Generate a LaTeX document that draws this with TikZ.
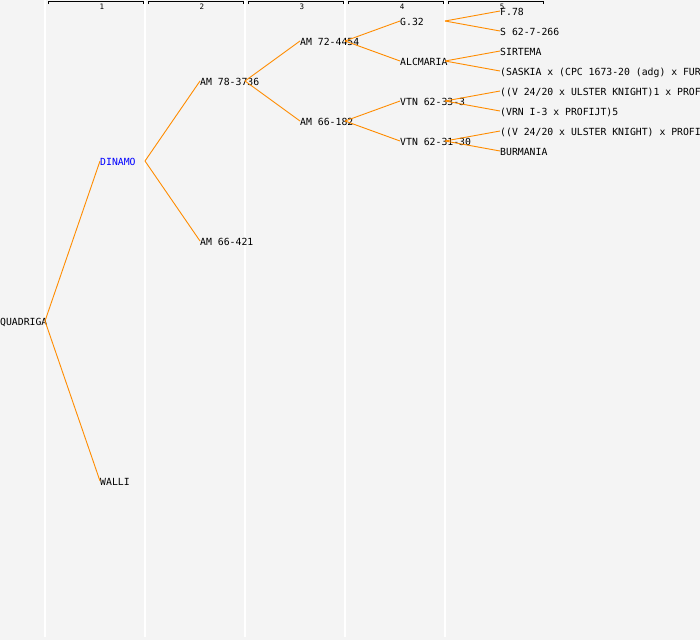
\documentclass[tikz,border=0pt]{standalone}
\usepackage{fontspec}
\setmonofont{DejaVu Sans Mono}
\usepackage{xcolor}
\definecolor{sfondo}{HTML}{F4F4F4}
\definecolor{ramo}{HTML}{FF8C00}
\definecolor{blu}{HTML}{0000FF}
\begin{document}
\begin{tikzpicture}[x=1pt,y=-1pt,
  nome/.style={anchor=west,inner sep=0pt,text height=9.5pt,text depth=0pt,
    font=\ttfamily\fontsize{9.8}{10}\selectfont},
  numero/.style={inner sep=0pt,font=\ttfamily\fontsize{7.5}{7.5}\selectfont},
  arco/.style={draw=ramo,line width=0.9pt},
  colonna/.style={draw=white,line width=1.5pt}]

% Sfondo
\useasboundingbox (0,0) rectangle (700,640);
\clip (0,0) rectangle (700,640);
\fill[sfondo] (0,0) rectangle (700,640);

% Colonne
\coordinate (col1) at (45,0);
\coordinate (col2) at (145,0);
\coordinate (col3) at (245,0);
\coordinate (col4) at (345,0);
\coordinate (col5) at (445,0);
\draw[colonna] (col1) -- (45,637);
\draw[colonna] (col2) -- (145,637);
\draw[colonna] (col3) -- (245,637);
\draw[colonna] (col4) -- (345,637);
\draw[colonna] (col5) -- (445,637);

% Intestazione
\draw (48,4) -- (48,1) -- (143,1) -- (143,4);
\draw (148,4) -- (148,1) -- (243,1) -- (243,4);
\draw (248,4) -- (248,1) -- (343,1) -- (343,4);
\draw (348,4) -- (348,1) -- (443,1) -- (443,4);
\draw (448,4) -- (448,1) -- (543,1) -- (543,4);
\node[numero] (n1) at (102,6.5) {1};
\node[numero] (n2) at (202,6.5) {2};
\node[numero] (n3) at (302,6.5) {3};
\node[numero] (n4) at (402,6.5) {4};
\node[numero] (n5) at (502,6.5) {5};

% Generazioni
\node[nome] (quadriga) at (0,321) {QUADRIGA};
\node[nome,text=blu] (dinamo) at (100,161) {DINAMO};
\node[nome] (walli) at (100,481) {WALLI};
\node[nome] (am783736) at (200,81) {AM 78-3736};
\node[nome] (am66421) at (200,241) {AM 66-421};
\node[nome] (am724454) at (300,41) {AM 72-4454};
\node[nome] (am66182) at (300,121) {AM 66-182};
\node[nome] (g32) at (400,21) {G.32};
\node[nome] (alcmaria) at (400,61) {ALCMARIA};
\node[nome] (vtn3333) at (400,101) {VTN 62-33-3};
\node[nome] (vtn3130) at (400,141) {VTN 62-31-30};
\node[nome] (f78) at (500,11) {F.78};
\node[nome] (s627266) at (500,31) {S 62-7-266};
\node[nome] (sirtema) at (500,51) {SIRTEMA};
\node[nome] (saskia) at (500,71) {(SASKIA x (CPC 1673-20 (adg) x FUR};
\node[nome] (ulster1) at (500,91) {((V 24/20 x ULSTER KNIGHT)1 x PROF};
\node[nome] (vrn) at (500,111) {(VRN I-3 x PROFIJT)5};
\node[nome] (ulster2) at (500,131) {((V 24/20 x ULSTER KNIGHT) x PROFI};
\node[nome] (burmania) at (500,151) {BURMANIA};

% Rami
\draw[arco] (quadriga.west -| col1) -- (dinamo.west);
\draw[arco] (quadriga.west -| col1) -- (walli.west);
\draw[arco] (dinamo.west -| col2) -- (am783736.west);
\draw[arco] (dinamo.west -| col2) -- (am66421.west);
\draw[arco] (am783736.west -| col3) -- (am724454.west);
\draw[arco] (am783736.west -| col3) -- (am66182.west);
\draw[arco] (am724454.west -| col4) -- (g32.west);
\draw[arco] (am724454.west -| col4) -- (alcmaria.west);
\draw[arco] (am66182.west -| col4) -- (vtn3333.west);
\draw[arco] (am66182.west -| col4) -- (vtn3130.west);
\draw[arco] (g32.west -| col5) -- (f78.west);
\draw[arco] (g32.west -| col5) -- (s627266.west);
\draw[arco] (alcmaria.west -| col5) -- (sirtema.west);
\draw[arco] (alcmaria.west -| col5) -- (saskia.west);
\draw[arco] (vtn3333.west -| col5) -- (ulster1.west);
\draw[arco] (vtn3333.west -| col5) -- (vrn.west);
\draw[arco] (vtn3130.west -| col5) -- (ulster2.west);
\draw[arco] (vtn3130.west -| col5) -- (burmania.west);
\end{tikzpicture}
\end{document}
